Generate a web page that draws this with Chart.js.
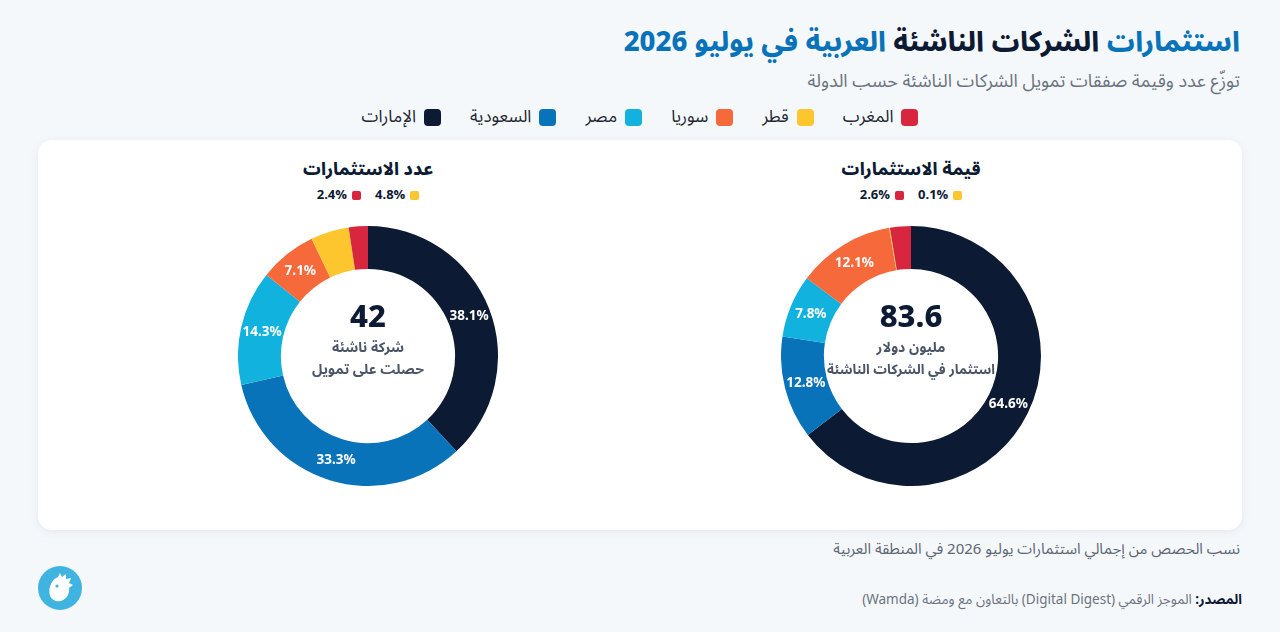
<!DOCTYPE html>
<html lang="ar" dir="rtl">
<head>
<meta charset="utf-8">
<script src="https://cdn.jsdelivr.net/npm/chart.js@4.4.1/dist/chart.umd.min.js"></script>
<style>
  html, body { margin: 0; padding: 0; }
  body {
    width: 1280px; height: 632px; overflow: hidden; position: relative;
    background: #f5f8fb;
    font-family: "Noto Sans Arabic", "Noto Kufi Arabic", "DejaVu Sans", sans-serif;
    color: #0c1b33;
  }
  .abs { position: absolute; }
  #title { right: 40px; top: 20px; font-size: 27.5px; font-weight: 800; white-space: nowrap; line-height: 44px; }
  #title .b { color: #0873b9; }
  #subtitle { right: 40px; top: 66px; font-size: 18px; color: #6b7380; white-space: nowrap; line-height: 30px; }
  #legend { left: 0; width: 1280px; top: 103px; display: flex; justify-content: center; gap: 29px; font-size: 17px; color: #1d2633; line-height: 28px; }
  .item { display: flex; align-items: center; gap: 8px; }
  .sw { width: 17px; height: 17px; border-radius: 4px; display: inline-block; }
  #card { left: 38px; top: 140px; width: 1204px; height: 390px; background: #fff; border-radius: 14px; box-shadow: 0 2px 10px rgba(20,40,70,0.07); }
  .ctitle { font-size: 17.5px; font-weight: 800; width: 300px; text-align: center; line-height: 26px; }
  .mini { display: flex; justify-content: center; gap: 14px; font-size: 13px; font-weight: 700; width: 300px; line-height: 16px; }
  .mini .item { gap: 5px; }
  .mini .sw { width: 9px; height: 9px; border-radius: 2px; }
  .box { width: 260px; height: 260px; }
  .center { width: 200px; text-align: center; pointer-events: none; }
  .big { font-size: 31px; font-weight: 800; line-height: 40px; color: #0c1b33; }
  .sub { font-size: 14px; font-weight: 700; color: #4b5566; line-height: 22px; white-space: nowrap; }
  #note { right: 40px; top: 536px; font-size: 15px; color: #5e6673; white-space: nowrap; line-height: 26px; }
  #source { right: 38px; top: 588px; font-size: 13.5px; color: #6b7380; white-space: nowrap; line-height: 24px; }
  #source b { color: #0c1b33; }
  #logo { left: 38px; top: 566px; width: 44px; height: 44px; }
</style>
</head>
<body>
<div id="title" class="abs"><span class="b">استثمارات</span> الشركات الناشئة <span class="b">العربية في يوليو 2026</span></div>
<div id="subtitle" class="abs">توزّع عدد وقيمة صفقات تمويل الشركات الناشئة حسب الدولة</div>
<div id="legend" class="abs"></div>
<div id="card" class="abs"></div>

<div class="abs ctitle" style="left:218px; top:157px;">عدد الاستثمارات</div>
<div class="abs mini" id="miniL" style="left:218px; top:187px;"></div>
<div class="abs box" style="left:238px; top:226px;"><canvas id="countChart"></canvas></div>
<div class="abs center" style="left:268px; top:297px;">
  <div class="big">42</div>
  <div class="sub">شركة ناشئة</div>
  <div class="sub">حصلت على تمويل</div>
</div>

<div class="abs ctitle" style="left:761px; top:157px;">قيمة الاستثمارات</div>
<div class="abs mini" id="miniR" style="left:761px; top:187px;"></div>
<div class="abs box" style="left:781px; top:226px;"><canvas id="valueChart"></canvas></div>
<div class="abs center" style="left:811px; top:297px;">
  <div class="big">83.6</div>
  <div class="sub">مليون دولار</div>
  <div class="sub" style="font-size:13.5px;">استثمار في الشركات الناشئة</div>
</div>

<div id="note" class="abs">نسب الحصص من إجمالي استثمارات يوليو 2026 في المنطقة العربية</div>
<div id="source" class="abs"><b>المصدر:</b> الموجز الرقمي (Digital Digest) بالتعاون مع ومضة (Wamda)</div>
<svg id="logo" class="abs" viewBox="0 0 44 44">
  <circle cx="22" cy="22" r="22" fill="#3fb4e0"/>
  <path d="M12 30 C10 22 13 14 20 11 L22 7 L24 11 L28 8 L28 13 L33 12 L31 17 L35 19 L31 22 C32 27 29 33 23 35 C18 36 14 34 12 30 Z" fill="#fff"/>
  <circle cx="19" cy="20" r="1.6" fill="#3fb4e0"/>
</svg>

<script>
// countries in drawing order (clockwise from top)
var countries = ['الإمارات', 'السعودية', 'مصر', 'سوريا', 'قطر', 'المغرب'];
var colors = ['#0c1b33', '#0873b9', '#12b2de', '#f5693b', '#fdc62f', '#d7263d'];
// number of funded startups per country (total 42)
var dealCounts = [16, 14, 6, 3, 2, 1];
// share of investment value, percent (total 83.6 M$)
var valueShares = [64.6, 12.8, 7.8, 12.1, 0.1, 2.6];
// small slices shown in the mini legend instead of on the ring
var smallSlices = [4, 5];

function pct(arr) {
  var total = arr.reduce(function (a, b) { return a + b; }, 0);
  return arr.map(function (v) { return (v / total * 100).toFixed(1) + '%'; });
}

// main legend, reversed so that RTL order reads Morocco ... UAE from right
var legend = document.getElementById('legend');
countries.slice().reverse().forEach(function (c, i) {
  var idx = countries.length - 1 - i;
  var el = document.createElement('div');
  el.className = 'item';
  el.innerHTML = '<span class="sw" style="background:' + colors[idx] + '"></span><span>' + c + '</span>';
  legend.appendChild(el);
});

function miniLegend(id, labels) {
  var box = document.getElementById(id);
  smallSlices.forEach(function (idx) {
    var el = document.createElement('div');
    el.className = 'item';
    el.innerHTML = '<span class="sw" style="background:' + colors[idx] + '"></span><span dir="ltr">' + labels[idx] + '</span>';
    box.appendChild(el);
  });
}

var sliceLabels = {
  id: 'sliceLabels',
  afterDatasetsDraw: function (chart) {
    var ctx = chart.ctx;
    var labels = chart.options.plugins.sliceLabels.labels;
    var meta = chart.getDatasetMeta(0);
    ctx.save();
    ctx.fillStyle = '#ffffff';
    ctx.font = 'bold 13.5px "Noto Sans", "DejaVu Sans", sans-serif';
    ctx.textAlign = 'center';
    ctx.textBaseline = 'middle';
    meta.data.forEach(function (arc, i) {
      if (smallSlices.indexOf(i) !== -1) return;
      var p = arc.tooltipPosition();
      ctx.fillText(labels[i], p.x, p.y);
    });
    ctx.restore();
  }
};

function donut(id, values) {
  var labels = pct(values);
  new Chart(document.getElementById(id), {
    type: 'doughnut',
    data: {
      labels: countries,
      datasets: [{
        data: values,
        backgroundColor: colors,
        borderWidth: 0
      }]
    },
    options: {
      responsive: true,
      maintainAspectRatio: false,
      animation: false,
      cutout: '67%',
      layout: { padding: 0 },
      plugins: {
        legend: { display: false },
        tooltip: { enabled: false },
        sliceLabels: { labels: labels }
      }
    },
    plugins: [sliceLabels]
  });
  return labels;
}

miniLegend('miniL', donut('countChart', dealCounts));
miniLegend('miniR', donut('valueChart', valueShares));
</script>
</body>
</html>
